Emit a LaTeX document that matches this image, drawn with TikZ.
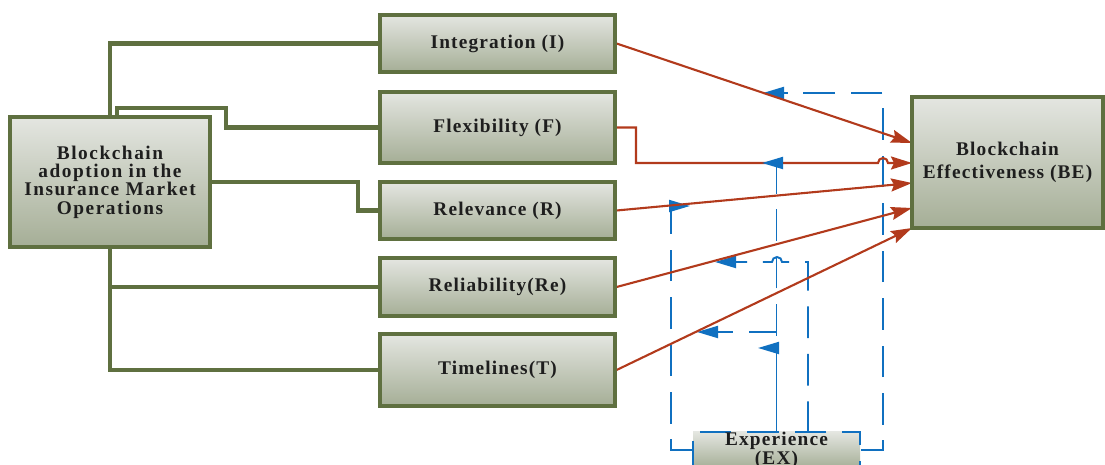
\documentclass[tikz,border=0pt]{standalone}
\usepackage{fontspec}
\usepackage{tikz}
\usetikzlibrary{arrows.meta}
\newfontfamily\boxfont{Liberation Serif}[LetterSpace=6]
\pgfdeclarelayer{edgelayer}
\pgfdeclarelayer{nodelayer}
\pgfsetlayers{edgelayer,nodelayer,main}
\definecolor{boxgreen}{RGB}{95,112,64}
\definecolor{shadetop}{RGB}{228,230,225}
\definecolor{shadebottom}{RGB}{165,174,150}
\definecolor{arrowred}{RGB}{178,58,28}
\definecolor{modblue}{RGB}{16,112,192}
\definecolor{textgrey}{RGB}{30,30,30}
\tikzstyle{none}=[inner sep=0pt]
\tikzstyle{box}=[draw=boxgreen, line width=1.8pt, top color=shadetop, bottom color=shadebottom, align=center, text=textgrey, inner sep=0pt, font=\boxfont\bfseries\fontsize{11}{10.4}\selectfont]
\tikzstyle{exbox}=[box, draw=modblue, line width=1.1pt, dash pattern=on 18pt off 9pt, font=\boxfont\bfseries\fontsize{11}{10.8}\selectfont]
\tikzstyle{link}=[draw=boxgreen, line width=2.3pt]
\tikzstyle{effect}=[draw=arrowred, line width=1.2pt, -{Stealth[length=0.42cm, width=0.26cm, inset=0.06cm]}]
\tikzstyle{moder}=[draw=modblue, line width=1.1pt, dash pattern=on 18pt off 9pt, -{Triangle[length=0.42cm, width=0.24cm]}]

\begin{document}
\begin{tikzpicture}
	\useasboundingbox (0, 0) rectangle (22.1, 9.3);
	\begin{pgfonlayer}{nodelayer}
		\node [style=box, minimum width=4cm, minimum height=2.6cm, font=\boxfont\bfseries\fontsize{11}{10.4}\selectfont\addfontfeature{LetterSpace=8}] (0) at (2.2, 5.66) {Blockchain\\adoption in the\\Insurance Market\\Operations};
		\node [style=box, minimum width=4.7cm, minimum height=1.14cm] (1) at (9.95, 8.43) {Integration (I)};
		\node [style=box, minimum width=4.7cm, minimum height=1.42cm] (2) at (9.95, 6.75) {Flexibility (F)};
		\node [style=box, minimum width=4.7cm, minimum height=1.14cm] (3) at (9.95, 5.09) {Relevance (R)};
		\node [style=box, minimum width=4.7cm, minimum height=1.16cm] (4) at (9.95, 3.56) {Reliability(Re)};
		\node [style=box, minimum width=4.7cm, minimum height=1.44cm] (5) at (9.95, 1.9) {Timelines(T)};
		\node [style=box, minimum width=3.82cm, minimum height=2.62cm, font=\boxfont\bfseries\fontsize{11}{12.7}\selectfont] (6) at (20.15, 6.05) {Blockchain\\Effectiveness (BE)};
		\node [style=exbox, minimum width=3.34cm, minimum height=0.68cm] (7) at (15.53, 0.3) {Experience\\(EX)};
		\node [style=none] (8) at (2.34, 6.96) {};
		\node [style=none] (9) at (4.52, 7.14) {};
		\node [style=none] (10) at (7.16, 5.4) {};
		\node [style=none] (11) at (18.24, 6.44) {};
		\node [style=none] (12) at (18.24, 6.04) {};
		\node [style=none] (13) at (18.24, 5.64) {};
		\node [style=none] (14) at (18.24, 5.14) {};
		\node [style=none] (15) at (18.24, 4.74) {};
		\node [style=none] (16) at (12.72, 6.04) {};
		\node [style=none] (17) at (17.56, 6.04) {};
		\node [style=none] (18) at (13.42, 5.18) {};
		\node [style=none] (19) at (13.8, 5.18) {};
		\node [style=none] (20) at (17.66, 7.44) {};
		\node [style=none] (21) at (15.26, 7.44) {};
		\node [style=none] (22) at (15.24, 6.04) {};
		\node [style=none] (23) at (13.94, 2.66) {};
		\node [style=none] (24) at (15.16, 2.34) {};
		\node [style=none] (25) at (16.16, 0.64) {};
		\node [style=none] (26) at (16.16, 4.06) {};
		\node [style=none] (27) at (14.3, 4.06) {};
		\node [style=none] (28) at (15.64, 4.06) {};
	\end{pgfonlayer}
	\begin{pgfonlayer}{edgelayer}
		\draw [style=link] (0.north) |- (1.west);
		\draw [style=link] (8.center) |- (9.center) |- (2.west);
		\draw [style=link] (0.east) -| (10.center) |- (3.west);
		\draw [style=link] (0.south) |- (4.west);
		\draw [style=link] (0.south) |- (5.west);
		\draw [style=moder] (7.west) -| (18.center) -- (19.center);
		\draw [style=moder] (7.east) -| (20.center) -- (21.center);
		\draw [style=moder] (7.north) |- (23.center);
		\draw [style=moder, solid] (7.north) |- (24.center);
		\draw [style=moder] (25.center) -- (26.center) -- (28.center) arc (0:180:0.1) -- (27.center);
		\draw [style=effect] (1.east) to (11.center);
		\draw [style=effect] (2.east) -| (16.center) -- (17.center) arc (180:0:0.1) -- (12.center);
		\draw [style=effect] (3.east) to (13.center);
		\draw [style=effect] (4.east) to (14.center);
		\draw [style=effect] (5.east) to (15.center);
		\draw [style=moder] (7.north) |- (22.center);
	\end{pgfonlayer}
\end{tikzpicture}
\end{document}
